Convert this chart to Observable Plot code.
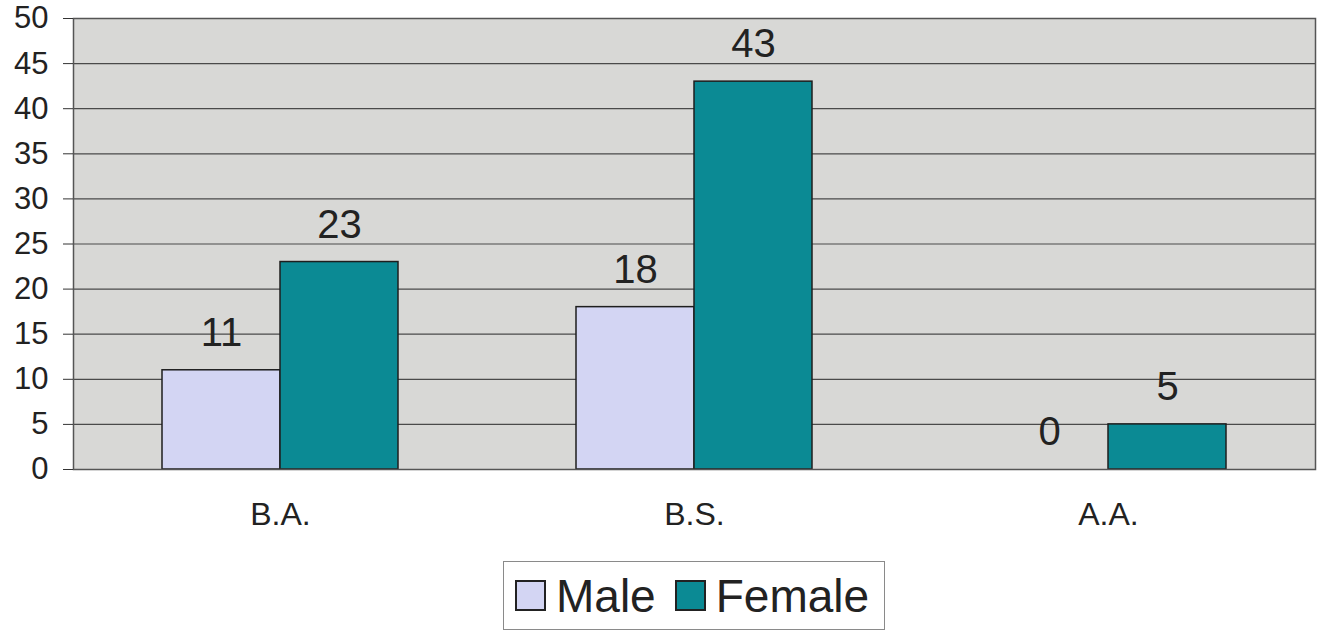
<!DOCTYPE html>
<html>
<head>
<meta charset="utf-8">
<script src="https://cdn.jsdelivr.net/npm/d3@7"></script>
<script src="https://cdn.jsdelivr.net/npm/@observablehq/plot@0.6"></script>
<style>
  html, body { margin: 0; padding: 0; background: #fff; }
  body { font-family: "Liberation Sans", Arial, sans-serif; }
  #wrap { position: relative; width: 1322px; height: 632px; }
  #legend {
    position: absolute; left: 503px; top: 561px; width: 382px; height: 69px;
    border: 1.5px solid #8a8a8a; box-sizing: border-box;
    display: flex; align-items: center; justify-content: flex-start; padding-left: 11px;
    font-size: 46px; color: #222; line-height: 1;
  }
  .sw { display: inline-block; width: 27px; height: 27px; border: 2px solid #222; margin-right: 10px; }
  .item { display: flex; align-items: center; margin-right: 19px; }
</style>
</head>
<body>
<div id="wrap"><div id="chart"></div><div id="legend"></div></div>
<script>
const categories = ["B.A.", "B.S.", "A.A."];
const seriesNames = ["Male", "Female"];
const maleValues = [11, 18, 0];
const femaleValues = [23, 43, 5];
const yTicks = [0, 5, 10, 15, 20, 25, 30, 35, 40, 45, 50];
const colors = ["#d3d5f3", "#0b8a94"];

const rows = [];
categories.forEach((c, i) => {
  rows.push({cat: c, sex: "Male", value: maleValues[i]});
  rows.push({cat: c, sex: "Female", value: femaleValues[i]});
});

const font = '"Liberation Sans", Arial, sans-serif';

const chart = Plot.plot({
  width: 1322,
  height: 548,
  marginLeft: 72,
  marginRight: 7,
  marginTop: 18,
  marginBottom: 79,
  style: {fontFamily: font, color: "#222", background: "#fff"},
  fx: {domain: categories, padding: 0, label: null},
  x: {domain: seriesNames, paddingInner: 0, paddingOuter: 0.754, axis: null},
  y: {domain: [0, 50], label: null},
  color: {domain: seriesNames, range: colors},
  marks: [
    Plot.frame({facet: "super", fill: "#d8d8d6", stroke: null}),
    Plot.gridY(yTicks, {stroke: "#4a4a4a", strokeOpacity: 1, strokeWidth: 1.2}),
    Plot.barY(rows, {fx: "cat", x: "sex", y: "value", fill: "sex", stroke: "#1e1e1e", strokeWidth: 1.5}),
    Plot.text(rows, {fx: "cat", x: "sex", y: "value", text: d => String(d.value), dy: -37, fontSize: 40, fill: "#222"}),
    Plot.frame({facet: "super", stroke: "#555", strokeWidth: 1.5, fill: "none"}),
    Plot.axisY(yTicks, {anchor: "left", label: null, tickSize: 10, tickPadding: 15, fontSize: 31, stroke: "#333", fill: "#222"}),
    Plot.axisFx({anchor: "bottom", label: null, tickSize: 0, tickPadding: 33, fontSize: 32, fill: "#222"})
  ]
});
document.getElementById("chart").appendChild(chart);

const legend = document.getElementById("legend");
seriesNames.forEach((n, i) => {
  const item = document.createElement("span");
  item.className = "item";
  const sw = document.createElement("span");
  sw.className = "sw";
  sw.style.background = colors[i];
  item.appendChild(sw);
  item.appendChild(document.createTextNode(n));
  legend.appendChild(item);
});
</script>
</body>
</html>
